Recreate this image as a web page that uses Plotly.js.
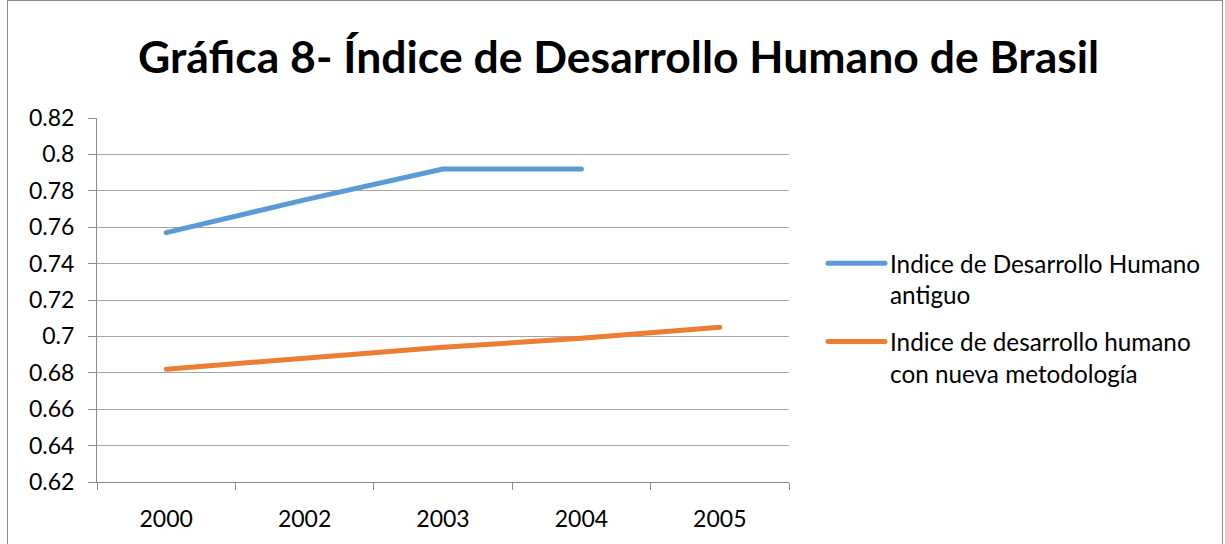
<!DOCTYPE html>
<html>
<head>
<meta charset="utf-8">
<script src="https://cdn.plot.ly/plotly-3.0.1.min.js"></script>
<style>
  html, body { margin: 0; padding: 0; background: #fff; }
  #wrap { position: relative; width: 1225px; height: 544px; overflow: hidden; }
  #frame { position: absolute; left: 7px; top: 0px; width: 1216px; height: 600px; border: 1px solid #8c8c8c; box-sizing: border-box; }
  #chart { position: absolute; left: 0; top: 0; width: 1225px; height: 544px; }
  #chart .scatterlayer path.js-line, #chart .legend path.js-line { stroke-linecap: round; stroke-linejoin: round; }
</style>
</head>
<body>
<div id="wrap">
  <div id="chart"></div>
  <div id="frame"></div>
</div>
<script>
const years = ["2000", "2002", "2003", "2004", "2005"];
const idhAntiguo = [0.757, 0.775, 0.792, 0.792, null];
const idhNuevo = [0.682, 0.688, 0.694, 0.699, 0.705];
const nameAntiguo = "Indice de Desarrollo Humano<br>antiguo";
const nameNuevo = "Indice de desarrollo humano<br>con nueva metodología";
const chartTitle = "Gráfica 8- Índice de Desarrollo Humano de Brasil";

const font = "Lato, 'Open Sans', sans-serif";

const traces = [
  { x: years, y: idhAntiguo, name: nameAntiguo, legendgroup: "a", type: "scatter", mode: "lines",
    line: { color: "#5B9BD5", width: 5 }, connectgaps: false },
  { x: years, y: idhNuevo, name: nameNuevo, legendgroup: "b", type: "scatter", mode: "lines",
    line: { color: "#ED7D31", width: 5 } }
];

const layout = {
  width: 1225, height: 544,
  margin: { l: 97, r: 436, t: 118, b: 62 },
  paper_bgcolor: "#fff", plot_bgcolor: "#fff",
  font: { family: font, color: "#000", size: 24 },
  title: { text: "<b>" + chartTitle + "</b>", font: { family: font, size: 44.5, color: "#000" },
           x: 0.505, xanchor: "center", y: 1 - 57/544, yanchor: "middle", yref: "container" },
  xaxis: { type: "category", range: [-0.5, 4.5], tickson: "boundaries", ticks: "outside", ticklen: 7,
           tickcolor: "#8c8c8c", showline: true, linecolor: "#8c8c8c", linewidth: 1,
           showgrid: false, zeroline: false, tickfont: { size: 23 }, ticklabelstandoff: 16,
           fixedrange: true },
  yaxis: { range: [0.62, 0.82], dtick: 0.02, tick0: 0.62, ticks: "outside", ticklen: 8,
           tickcolor: "#8c8c8c", showline: true, linecolor: "#8c8c8c", linewidth: 1,
           showgrid: true, gridcolor: "#a6a6a6", gridwidth: 1, zeroline: false,
           tickfont: { size: 23 }, ticklabelstandoff: 9, fixedrange: true },
  legend: { x: 823/1225, xref: "container", xanchor: "left", y: 1 - 241/544, yref: "container", yanchor: "top",
            valign: "top", font: { size: 24.3 }, tracegroupgap: 12, itemwidth: 57,
            bgcolor: "rgba(0,0,0,0)" },
  showlegend: true
};

Plotly.newPlot("chart", traces, layout, { displayModeBar: false, staticPlot: true });
</script>
</body>
</html>
